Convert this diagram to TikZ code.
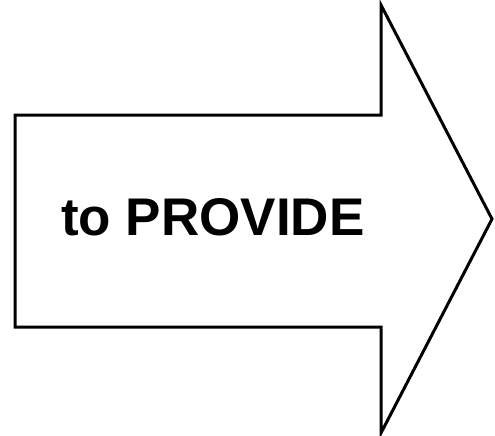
\documentclass[tikz,border=0pt]{standalone}
\usepackage{fontspec}
\setmainfont{Liberation Sans}
\begin{document}
\begin{tikzpicture}[x=1pt,y=-1pt,
  arrowshape/.style={draw=black,line width=3pt,line join=miter,fill=white},
  label/.style={font=\fontsize{53}{60}\selectfont\bfseries,inner sep=0pt}]
\useasboundingbox (0,0) rectangle (495,436);
\coordinate (a) at (15,115);
\coordinate (b) at (381,115);
\coordinate (c) at (381,5);
\coordinate (d) at (492,219);
\coordinate (e) at (381,433);
\coordinate (f) at (381,327);
\coordinate (g) at (15,327);
\draw[arrowshape] (a) -- (b) -- (c) -- (d) -- (e) -- (f) -- (g) -- cycle;
\node[label,anchor=base west] (t) at (61,235) {to PROVIDE};
\end{tikzpicture}
\end{document}
